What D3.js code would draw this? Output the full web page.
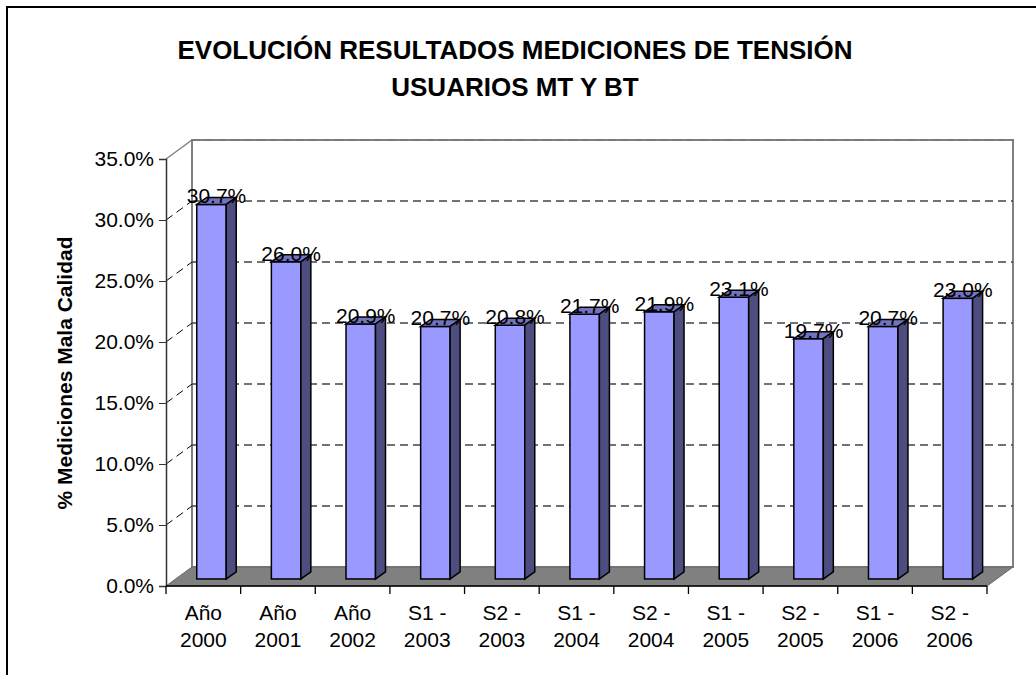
<!DOCTYPE html>
<meta charset="utf-8">
<html>
<style>
  body { margin: 0; background: #fff; }
  text { font-family: "Liberation Sans", Arial, sans-serif; }
</style>
<body>
<div id="chart"></div>
<script src="https://d3js.org/d3.v7.min.js"></script>
<script>
// ----- Data -----
const categories = ["Año 2000", "Año 2001", "Año 2002", "S1 - 2003", "S2 - 2003", "S1 - 2004",
                    "S2 - 2004", "S1 - 2005", "S2 - 2005", "S1 - 2006", "S2 - 2006"];
const values = [30.7, 26.0, 20.9, 20.7, 20.8, 21.7, 21.9, 23.1, 19.7, 20.7, 23.0];
const yTicks = [0, 5, 10, 15, 20, 25, 30, 35];

const titleLines = ["EVOLUCIÓN RESULTADOS MEDICIONES DE TENSIÓN", "USUARIOS MT Y BT"];
const yTitle = "% Mediciones Mala Calidad";

// ----- Layout -----
const W = 1036, H = 675;
const DX = 26, DY = -19;      // depth of the 3d box
const barDx = 10, barDy = -7; // depth of one column
const off0 = 0.37;            // columns sit this far back in the box

const svg = d3.select("#chart").append("svg")
  .attr("width", W).attr("height", H);

svg.append("rect").attr("width", W).attr("height", H).attr("fill", "#fff");
// outer frame (runs off the right and bottom edge)
svg.append("rect")
  .attr("x", 7).attr("y", 7).attr("width", 1200).attr("height", 900)
  .attr("fill", "none").attr("stroke", "#000").attr("stroke-width", 2);

const x = d3.scaleBand().domain(categories).range([166, 987]).padding(0);
const y = d3.scaleLinear().domain([0, 35]).range([586, 159]);

const x0 = 166, x1 = 987;
const pts = a => a.map(p => p.join(",")).join(" ");

// back wall
svg.append("rect")
  .attr("x", x0 + DX).attr("y", y(35) + DY)
  .attr("width", x1 - x0).attr("height", y(0) - y(35))
  .attr("fill", "#fff").attr("stroke", "#808080").attr("stroke-width", 2);

// left wall top edge
svg.append("line")
  .attr("x1", x0).attr("y1", y(35)).attr("x2", x0 + DX).attr("y2", y(35) + DY)
  .attr("stroke", "#808080").attr("stroke-width", 1.5);

// floor
svg.append("polygon")
  .attr("points", pts([[x0, y(0)], [x1, y(0)], [x1 + DX, y(0) + DY], [x0 + DX, y(0) + DY]]))
  .attr("fill", "#808080").attr("stroke", "#666").attr("stroke-width", 1);

// gridlines (back wall + side wall)
const grid = svg.append("g");
yTicks.filter(t => t > 0).forEach(t => {
  grid.append("line")
    .attr("x1", x0 + DX).attr("x2", x1 + DX)
    .attr("y1", y(t) + DY).attr("y2", y(t) + DY)
    .attr("stroke", t === 35 ? "#777" : "#444").attr("stroke-width", 1.5)
    .attr("stroke-dasharray", "8,5");
  if (t < 35) {
    grid.append("line")
      .attr("x1", x0).attr("y1", y(t)).attr("x2", x0 + DX).attr("y2", y(t) + DY)
      .attr("stroke", "#000").attr("stroke-width", 1).attr("stroke-dasharray", "8,5");
  }
});

// Y axis
const axisY = svg.append("g")
  .attr("transform", "translate(" + x0 + ",0)")
  .call(d3.axisLeft(y).tickValues(yTicks).tickSizeOuter(0).tickSize(7).tickPadding(5)
    .tickFormat(d => d.toFixed(1) + "%"));
axisY.select(".domain").attr("stroke", "#333").attr("stroke-width", 1.5);
axisY.selectAll(".tick line").attr("stroke", "#333");
axisY.selectAll("text").attr("font-size", 21).attr("fill", "#000")
  .style("font-family", "'Liberation Sans', Arial, sans-serif");

// X axis line + ticks
svg.append("line").attr("x1", x0).attr("x2", x1).attr("y1", y(0)).attr("y2", y(0))
  .attr("stroke", "#000").attr("stroke-width", 1.5);
svg.selectAll(".xtick").data(categories.concat(["end"])).join("line")
  .attr("class", "xtick")
  .attr("x1", d => d === "end" ? x1 : x(d)).attr("x2", d => d === "end" ? x1 : x(d))
  .attr("y1", y(0)).attr("y2", y(0) + 8)
  .attr("stroke", "#000").attr("stroke-width", 1.3);

// X labels, two lines each
const xl = svg.selectAll(".xlabel").data(categories).join("text")
  .attr("class", "xlabel")
  .attr("text-anchor", "middle")
  .attr("font-size", 21);
xl.append("tspan")
  .attr("x", d => x(d) + x.bandwidth() / 2).attr("y", 620)
  .text(d => d.slice(0, d.lastIndexOf(" ")));
xl.append("tspan")
  .attr("x", d => x(d) + x.bandwidth() / 2).attr("y", 647)
  .text(d => d.slice(d.lastIndexOf(" ") + 1));

// Columns
const bw = x.bandwidth();
const colW = 0.395 * bw;
const sx = off0 * DX, sy = off0 * DY;

const bars = svg.selectAll(".bar").data(categories.map((c, i) => ({c: c, v: values[i]})))
  .join("g").attr("class", "bar");

bars.each(function(d) {
  const g = d3.select(this);
  const fx = x(d.c) + 0.283 * bw + sx;
  const top = y(d.v) + sy, base = y(0) + sy;
  g.append("rect")
    .attr("x", fx).attr("y", top).attr("width", colW).attr("height", base - top)
    .attr("fill", "#9999FF").attr("stroke", "#000").attr("stroke-width", 1.5);
  g.append("polygon")
    .attr("points", pts([[fx, top], [fx + colW, top], [fx + colW + barDx, top + barDy], [fx + barDx, top + barDy]]))
    .attr("fill", "#7373BF").attr("stroke", "#000").attr("stroke-width", 1.5);
  g.append("polygon")
    .attr("points", pts([[fx + colW, top], [fx + colW + barDx, top + barDy], [fx + colW + barDx, base + barDy], [fx + colW, base]]))
    .attr("fill", "#4D4D80").attr("stroke", "#000").attr("stroke-width", 1.5);
  g.append("text")
    .attr("x", fx + (colW + barDx) / 2).attr("y", top - 1)
    .attr("text-anchor", "middle").attr("font-size", 21)
    .text(d.v.toFixed(1) + "%");
});

// Titles
svg.selectAll(".title").data(titleLines).join("text")
  .attr("class", "title")
  .attr("x", 515).attr("y", (d, i) => 59 + i * 37)
  .attr("text-anchor", "middle").attr("font-size", 26).attr("font-weight", "bold")
  .text(d => d);

svg.append("text")
  .attr("transform", "translate(72,373) rotate(-90)")
  .attr("text-anchor", "middle").attr("font-size", 21).attr("font-weight", "bold")
  .text(yTitle);
</script>
</body>
</html>
